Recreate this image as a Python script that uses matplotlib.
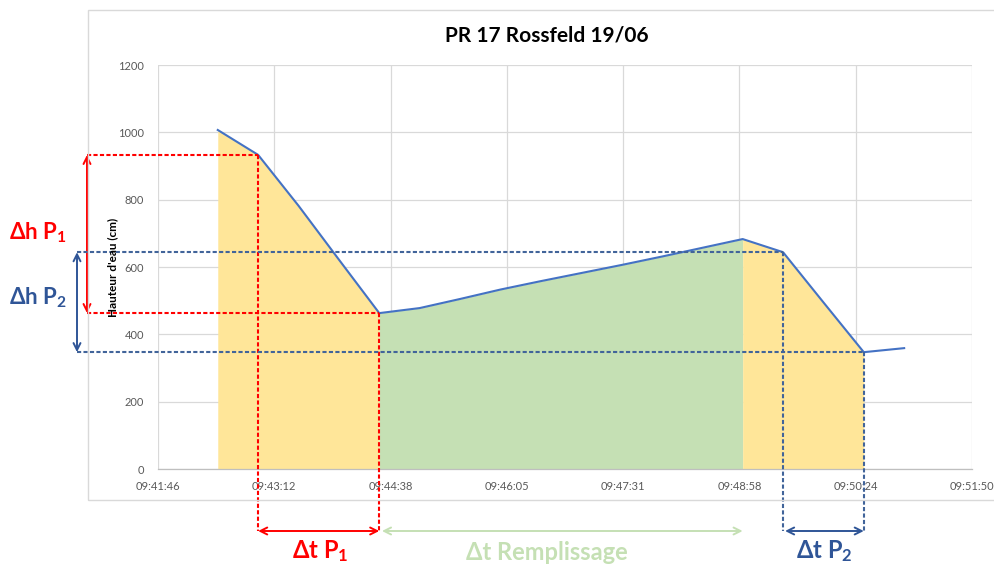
import matplotlib
matplotlib.use("Agg")
import matplotlib.pyplot as plt
from matplotlib.patches import Rectangle
from matplotlib.transforms import blended_transform_factory

# ---------------- data ----------------
times = ["09:42:30", "09:43:00", "09:43:30", "09:44:00", "09:44:30", "09:45:00",
         "09:45:30", "09:46:00", "09:46:30", "09:47:00", "09:47:30", "09:48:00",
         "09:48:30", "09:49:00", "09:49:30", "09:50:00", "09:50:30", "09:51:00"]
heights = [1007, 933, 782, 622, 463, 478, 505, 533, 558, 582, 606, 631,
           657, 683, 644, 495, 347, 359]
x_tick_labels = ["09:41:46", "09:43:12", "09:44:38", "09:46:05",
                 "09:47:31", "09:48:58", "09:50:24", "09:51:50"]
y_ticks = [0, 200, 400, 600, 800, 1000, 1200]
title = "PR 17 Rossfeld 19/06"
ylabel = "Hauteur d'eau (cm)"

# phase indices (into times / heights)
purge1 = (0, 4)      # yellow area 1
fill_phase = (4, 13)  # green area
purge2 = (13, 16)    # yellow area 2
p1_pts = (1, 4)      # Δh P1 / Δt P1 reference points
p2_pts = (14, 16)    # Δh P2 / Δt P2 reference points

axis_start_day = 0.404
axis_step_day = 0.001


def to_sec(s):
    h, m, sec = map(int, s.split(":"))
    return h * 3600 + m * 60 + sec


x = [to_sec(t) for t in times]

plt.rcParams["font.family"] = ["Lato", "DejaVu Sans"]
plt.rcParams["mathtext.fontset"] = "custom"
plt.rcParams["mathtext.rm"] = "Lato:bold"
plt.rcParams["mathtext.it"] = "Lato:bold"
plt.rcParams["mathtext.bf"] = "Lato:bold"

W, H = 995, 566
fig = plt.figure(figsize=(W / 100, H / 100), dpi=100)


def fx(px):
    return px / W


def fy(py):
    return 1 - py / H


ax = fig.add_axes([fx(158), fy(469), fx(972) - fx(158), fy(65) - fy(469)])

xticks = [(axis_start_day + axis_step_day * i) * 86400 for i in range(len(x_tick_labels))]
ax.set_xlim(xticks[0], xticks[-1])
ax.set_ylim(0, 1200)
ax.set_xticks(xticks)
ax.set_xticklabels(x_tick_labels)
ax.set_yticks(y_ticks)
ax.set_yticklabels([str(v) for v in y_ticks])
ax.tick_params(axis="both", length=0, labelsize=8, labelcolor="#595959")
ax.tick_params(axis="x", pad=9)
ax.tick_params(axis="y", pad=10)
ax.grid(True, color="#d9d9d9", lw=0.9)
ax.set_axisbelow(True)
for s in ["top", "right", "left"]:
    ax.spines[s].set_visible(False)
ax.spines["bottom"].set_color("#bfbfbf")
ax.spines["bottom"].set_linewidth(0.9)

# filled areas
def fill(rng, color):
    a, b = rng
    ax.fill_between(x[a:b + 1], heights[a:b + 1], 0, color=color, lw=0, zorder=1)

fill(purge1, "#ffe699")
fill(fill_phase, "#c5e0b4")
fill(purge2, "#ffe699")

ax.plot(x, heights, color="#4472c4", lw=1.5, zorder=3)

# outer chart border
fig.patches.append(Rectangle((fx(88), fy(500)), 1.2, fy(10) - fy(500),
                             transform=fig.transFigure, fill=False,
                             edgecolor="#d9d9d9", lw=1))

fig.text(fx(547), fy(35), title, ha="center", va="center", fontsize=15,
         fontweight="bold", color="black")
fig.text(fx(113), 0.5 * (fy(65) + fy(469)), ylabel, rotation=90, ha="center",
         va="center", fontsize=8.5, fontweight="bold", color="black")

# helpers to convert figure pixels to data coordinates
inv = ax.transData.inverted()


def dx(px):
    return inv.transform(fig.transFigure.transform((fx(px), 0.5)))[0]


def dy(py):
    return inv.transform(fig.transFigure.transform((0.5, fy(py))))[1]


RED = "#ff0000"
BLUE = "#2f5597"
BLUE_DASH = "#41649a"
GREEN = "#c5e0b4"
dash = (0, (2.0, 1.1))
dlw = 1.5
arrow_y = 531

# red dashed lines (P1)
i1, i2 = p1_pts
for i in (i1, i2):
    ax.plot([dx(87), x[i]], [heights[i], heights[i]], color=RED, ls=dash, lw=dlw,
            clip_on=False, zorder=4)
    ax.plot([x[i], x[i]], [heights[i], dy(arrow_y)], color=RED, ls=dash, lw=dlw,
            clip_on=False, zorder=4)

# blue dashed lines (P2)
j1, j2 = p2_pts
for j in (j1, j2):
    ax.plot([dx(77), x[j]], [heights[j], heights[j]], color=BLUE_DASH, ls=dash, lw=dlw,
            clip_on=False, zorder=4)
    ax.plot([x[j], x[j]], [heights[j], dy(arrow_y)], color=BLUE_DASH, ls=dash, lw=dlw,
            clip_on=False, zorder=4)

aprops = dict(arrowstyle="<->,head_length=0.5,head_width=0.25", lw=1.4,
              shrinkA=0, shrinkB=0)

# vertical arrows
ax.annotate("", xy=(dx(87), heights[i1]), xytext=(dx(87), heights[i2]),
            arrowprops=dict(aprops, color=RED), annotation_clip=False)
ax.annotate("", xy=(dx(77), heights[j1]), xytext=(dx(77), heights[j2]),
            arrowprops=dict(aprops, color=BLUE), annotation_clip=False)

# horizontal arrows
ay = dy(arrow_y)
ax.annotate("", xy=(x[i1], ay), xytext=(x[i2], ay),
            arrowprops=dict(aprops, color=RED), annotation_clip=False)
ax.annotate("", xy=(x[fill_phase[0]] + 2, ay), xytext=(x[fill_phase[1]], ay),
            arrowprops=dict(aprops, color=GREEN), annotation_clip=False)
ax.annotate("", xy=(x[j1] + 1.5, ay), xytext=(x[j2], ay),
            arrowprops=dict(aprops, color=BLUE), annotation_clip=False)

# labels
fig.text(fx(9), fy(233), r"Δh P$_1$", color=RED, fontsize=16, fontweight="bold",
         ha="left", va="center")
fig.text(fx(9), fy(298), r"Δh P$_2$", color=BLUE, fontsize=16, fontweight="bold",
         ha="left", va="center")
tb = blended_transform_factory(ax.transData, fig.transFigure)
fig.text((x[i1] + x[i2]) / 2 + 1, fy(564.5), r"Δt P$_1$", color=RED, fontsize=17,
         fontweight="bold", ha="center", va="bottom", transform=tb)
fig.text(fx(547), fy(541), "Δt Remplissage", color=GREEN, fontsize=17,
         fontweight="bold", ha="center", va="top")
fig.text((x[j1] + x[j2]) / 2 + 1, fy(564.5), r"Δt P$_2$", color=BLUE, fontsize=17,
         fontweight="bold", ha="center", va="bottom", transform=tb)

fig.savefig("out.png", dpi=100)
